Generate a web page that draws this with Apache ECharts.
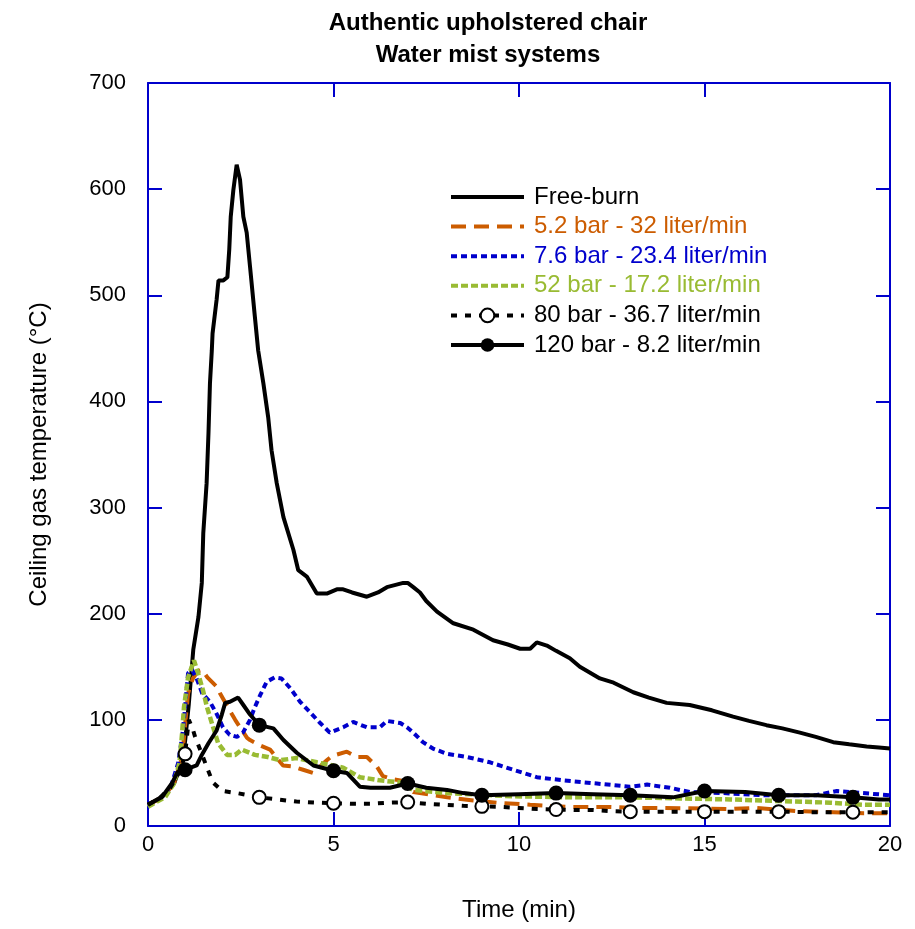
<!DOCTYPE html>
<html>
<head>
<meta charset="utf-8">
<script src="https://cdn.jsdelivr.net/npm/echarts@6/dist/echarts.min.js"></script>
<style>
  html, body { margin: 0; padding: 0; background: #fff; }
  #chart { width: 915px; height: 929px; }
</style>
</head>
<body>
<div id="chart"></div>
<script>
// Ceiling gas temperature (°C) against time (min) for each test
const seriesNames = [
  'Free-burn',
  '5.2 bar - 32 liter/min',
  '7.6 bar - 23.4 liter/min',
  '52 bar - 17.2 liter/min',
  '80 bar - 36.7 liter/min',
  '120 bar - 8.2 liter/min'
];

const freeBurnTime = [0, 0.4, 0.7, 0.9, 1.0, 1.1, 1.22, 1.36, 1.45, 1.49, 1.58, 1.63, 1.67, 1.72, 1.74, 1.85, 1.9, 2.03, 2.14, 2.19, 2.23, 2.3, 2.39, 2.48, 2.57, 2.66, 2.75, 2.88, 2.97, 3.11, 3.24, 3.33, 3.47, 3.65, 3.92, 4.05, 4.28, 4.55, 4.82, 5.09, 5.26, 5.5, 5.9, 6.2, 6.44, 6.88, 7.0, 7.15, 7.33, 7.5, 7.79, 8.23, 8.77, 9.3, 9.7, 10.03, 10.3, 10.48, 10.75, 11.0, 11.37, 11.64, 12.18, 12.55, 13.08, 13.5, 13.98, 14.6, 15.2, 15.77, 16.2, 16.67, 17.1, 17.57, 18.0, 18.47, 18.9, 19.37, 19.7, 20];
const freeBurnTemp = [20, 28, 40, 58, 80, 115, 166, 197, 229, 276, 323, 370, 417, 448, 464, 496, 514, 514, 517, 543, 574, 599, 623, 609, 574, 559, 527, 480, 448, 417, 385, 354, 323, 291, 260, 241, 235, 219, 219, 223, 223, 220, 216, 220, 225, 229, 229, 225, 220, 212, 202, 191, 185, 175, 171, 167, 167, 173, 170, 165, 158, 150, 139, 135, 126, 121, 116, 114, 109, 103, 99, 95, 92, 88, 84, 79, 77, 75, 74, 73];

const bar5Time = [0, 0.4, 0.7, 0.92, 1.08, 1.21, 1.35, 1.46, 1.6, 1.86, 1.94, 2.2, 2.35, 2.5, 2.67, 2.75, 3.02, 3.29, 3.64, 3.91, 4.18, 4.45, 4.82, 4.96, 5.36, 5.63, 5.9, 6.17, 6.33, 6.6, 6.8, 7.15, 8.06, 8.77, 9.4, 10.3, 11.3, 12.4, 13.1, 13.9, 15.7, 16.4, 17.5, 19.3, 20];
const bar5Temp = [20, 27, 40, 65, 125, 139, 146, 147, 140, 131, 125, 109, 100, 92, 83, 81, 76, 72, 57, 56, 53, 50, 62, 66, 70, 65, 65, 56, 47, 44, 43, 32, 27, 24, 22, 20, 18, 18, 17, 17, 16, 17, 14, 12, 12];

const bar7Time = [0, 0.3, 0.6, 0.81, 0.92, 1.0, 1.08, 1.19, 1.3, 1.46, 1.67, 1.86, 2.02, 2.2, 2.4, 2.56, 2.75, 2.88, 3.02, 3.2, 3.42, 3.6, 3.83, 4.1, 4.37, 4.64, 4.9, 5.26, 5.53, 5.9, 6.25, 6.44, 6.8, 6.98, 7.15, 7.41, 7.68, 8.06, 8.6, 9.22, 9.84, 10.48, 11.19, 12.1, 12.99, 13.45, 14.07, 14.6, 15.5, 16.6, 18.0, 18.57, 19.27, 20];
const bar7Temp = [20, 25, 35, 59, 84, 112, 144, 147, 140, 125, 117, 105, 93, 86, 84, 88, 100, 112, 123, 136, 140, 139, 130, 117, 107, 97, 88, 93, 98, 93, 93, 99, 97, 93, 88, 79, 73, 68, 65, 60, 53, 46, 43, 40, 37, 39, 36, 32, 31, 29, 29, 33, 31, 29];

const bar52Time = [0, 0.19, 0.46, 0.7, 0.85, 0.92, 0.97, 1.08, 1.24, 1.35, 1.48, 1.59, 1.72, 1.89, 2.13, 2.35, 2.53, 2.88, 3.23, 3.56, 4.0, 4.55, 5.26, 5.71, 6.25, 6.8, 7.15, 8.06, 9.84, 11.46, 13.0, 14.34, 15.7, 16.6, 18.4, 19.27, 20];
const bar52Temp = [18, 22, 27, 40, 60, 88, 112, 140, 156, 144, 128, 112, 97, 78, 67, 67, 72, 67, 65, 62, 64, 60, 55, 46, 43, 41, 34, 31, 28, 27, 27, 26, 25, 24, 22, 20, 20];

const bar80Time = [0, 0.3, 0.6, 0.8, 0.9, 1.0, 1.1, 1.2, 1.27, 1.45, 1.59, 1.75, 2.0, 2.4, 3.0, 3.5, 4.0, 4.5, 5.0, 5.5, 6.0, 6.5, 7.0, 7.5, 8.0, 8.5, 9.0, 9.5, 10.0, 10.5, 11.0, 11.5, 12.0, 12.5, 13.0, 14.0, 15.0, 16.0, 17.0, 18.0, 19.0, 20];
const bar80Temp = [20, 26, 36, 48, 55, 68, 100, 92, 84, 68, 55, 41, 33, 31, 27, 25, 23, 22, 21.5, 21, 21, 22, 22.5, 21, 20, 19, 18.5, 18, 17, 16, 15.5, 15, 15, 14, 13.5, 13.5, 13.5, 13.5, 13.5, 13, 13, 13];

const bar120Time = [0, 0.37, 0.64, 0.8, 1.0, 1.31, 1.45, 1.63, 1.85, 1.99, 2.08, 2.21, 2.43, 2.57, 2.75, 3.0, 3.38, 3.65, 4.01, 4.46, 5.0, 5.36, 5.71, 6.0, 6.52, 7.0, 7.5, 8.06, 8.5, 9.0, 10.0, 11.0, 12.0, 13.0, 14.15, 15.0, 16.1, 17.0, 18.0, 19.0, 19.7, 20];
const bar120Temp = [20, 27, 40, 51, 53, 57, 67, 78, 90, 105, 116, 117, 121, 114, 105, 95, 92, 81, 69, 57, 52, 50, 37, 36, 36, 40, 36, 34, 31, 29, 30, 31, 30, 29, 27, 33, 32, 29, 29, 27, 25, 25];

// times (min) at which the 80 bar and 120 bar curves carry a marker
const markerTimes = [1, 3, 5, 7, 9, 11, 13, 15, 17, 19];

const xTicks = [0, 5, 10, 15, 20];
const yTicks = [0, 100, 200, 300, 400, 500, 600, 700];

const FONT = '"Liberation Sans", Arial, sans-serif';
const AXIS_BLUE = '#0000CC';

function pairs(times, temps) {
  return times.map((t, i) => [t, temps[i]]);
}
function markedPairs(times, temps) {
  return times.map((t, i) => markerTimes.includes(t)
    ? { value: [t, temps[i]] }
    : { value: [t, temps[i]], symbol: 'none' });
}

const chart = echarts.init(document.getElementById('chart'), null, { renderer: 'canvas' });

const axisCommon = {
  type: 'value',
  axisLine: { show: true, onZero: false, lineStyle: { color: AXIS_BLUE, width: 2 } },
  axisTick: { show: true, inside: true, length: 14, lineStyle: { color: AXIS_BLUE, width: 2 } },
  splitLine: { show: false },
  minorTick: { show: false }
};

const legendColors = ['#000000', '#CC5C00', '#0000CC', '#99BB33', '#000000', '#000000'];
const legendHasMarker = [false, false, false, false, true, true];
const HIDDEN = { color: 'rgba(0,0,0,0)', borderColor: 'rgba(0,0,0,0)', borderWidth: 0 };

const option = {
  backgroundColor: '#ffffff',
  animation: false,
  title: {
    text: 'Authentic upholstered chair\nWater mist systems',
    left: 483,
    textAlign: 'center',
    top: 2,
    textStyle: { fontFamily: FONT, fontSize: 24, fontWeight: 'bold', color: '#000', lineHeight: 32 }
  },
  legend: {
    orient: 'vertical',
    left: 444,
    top: 180,
    itemWidth: 73,
    itemHeight: 17,
    itemGap: 5.6,
    lineStyle: { width: 4 },
    textStyle: { fontFamily: FONT, fontSize: 24, padding: [0, 0, 0, 5] },
    data: seriesNames.map((n, i) => {
      const item = { name: n, textStyle: { color: legendColors[i] } };
      if (!legendHasMarker[i]) item.itemStyle = HIDDEN;
      return item;
    })
  },
  grid: { left: 148, right: 25, top: 83, bottom: 103, containLabel: false },
  xAxis: [
    Object.assign({}, axisCommon, {
      position: 'bottom', min: xTicks[0], max: xTicks[xTicks.length - 1], interval: 5,
      name: 'Time (min)', nameLocation: 'middle', nameGap: 72,
      nameTextStyle: { fontFamily: FONT, fontSize: 24, color: '#000' },
      axisLabel: { show: true, margin: 8, fontFamily: FONT, fontSize: 22, color: '#000' }
    }),
    Object.assign({}, axisCommon, {
      position: 'top', min: xTicks[0], max: xTicks[xTicks.length - 1], interval: 5,
      axisLabel: { show: false }
    })
  ],
  yAxis: [
    Object.assign({}, axisCommon, {
      position: 'left', min: yTicks[0], max: yTicks[yTicks.length - 1], interval: 100,
      name: 'Ceiling gas temperature (°C)', nameLocation: 'middle', nameGap: 97,
      nameTextStyle: { fontFamily: FONT, fontSize: 24, color: '#000' },
      axisLabel: { show: true, margin: 22, fontFamily: FONT, fontSize: 22, color: '#000' }
    }),
    Object.assign({}, axisCommon, {
      position: 'right', min: yTicks[0], max: yTicks[yTicks.length - 1], interval: 100,
      axisLabel: { show: false }
    })
  ],
  series: [
    {
      name: seriesNames[0], type: 'line', symbol: 'none',
      data: pairs(freeBurnTime, freeBurnTemp),
      lineStyle: { color: '#000000', width: 4, type: 'solid' },
      itemStyle: { color: '#000000' }
    },
    {
      name: seriesNames[1], type: 'line', symbol: 'none',
      data: pairs(bar5Time, bar5Temp),
      lineStyle: { color: '#CC5C00', width: 4, type: [15, 8], cap: 'butt' },
      itemStyle: { color: '#CC5C00' }
    },
    {
      name: seriesNames[2], type: 'line', symbol: 'none',
      data: pairs(bar7Time, bar7Temp),
      lineStyle: { color: '#0000CC', width: 4, type: [6, 4], cap: 'butt' },
      itemStyle: { color: '#0000CC' }
    },
    {
      name: seriesNames[3], type: 'line', symbol: 'none',
      data: pairs(bar52Time, bar52Temp),
      lineStyle: { color: '#99BB33', width: 4.5, type: [7, 3], cap: 'butt' },
      itemStyle: { color: '#99BB33' }
    },
    {
      name: seriesNames[4], type: 'line', symbol: 'circle', symbolSize: 13, showAllSymbol: true,
      data: markedPairs(bar80Time, bar80Temp),
      lineStyle: { color: '#000000', width: 4, type: [6, 8], cap: 'butt' },
      itemStyle: { color: '#ffffff', borderColor: '#000000', borderWidth: 2 }
    },
    {
      name: seriesNames[5], type: 'line', symbol: 'circle', symbolSize: 15, showAllSymbol: true,
      data: markedPairs(bar120Time, bar120Temp),
      lineStyle: { color: '#000000', width: 4, type: 'solid' },
      itemStyle: { color: '#000000', borderColor: '#000000', borderWidth: 0 }
    }
  ]
};

chart.setOption(option);
</script>
</body>
</html>
